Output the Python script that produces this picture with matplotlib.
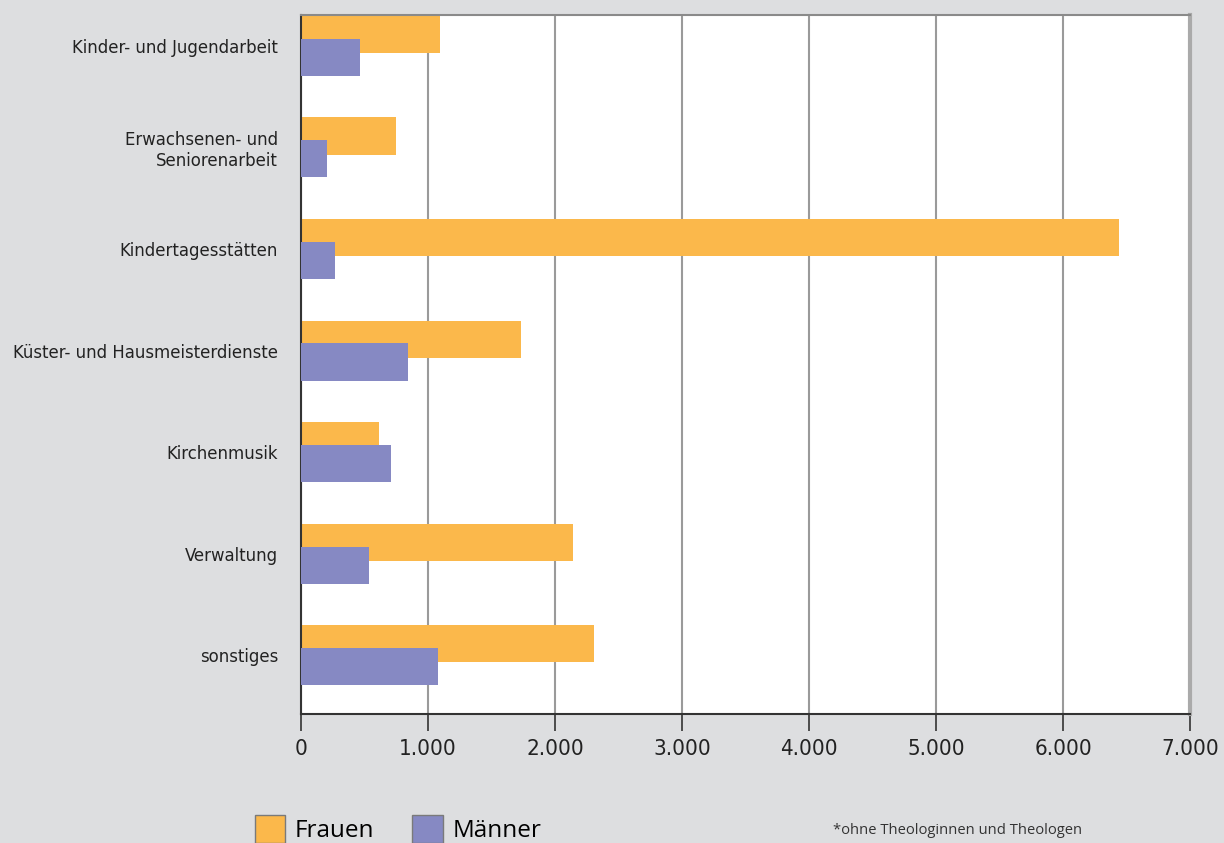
import matplotlib.pyplot as plt
from matplotlib.patches import Patch
from matplotlib.ticker import FuncFormatter

# Beschäftigte nach Arbeitsbereich
bereiche = ['Kinder- und Jugendarbeit', 'Erwachsenen- und\nSeniorenarbeit', 'Kindertagesstätten',
            'Küster- und Hausmeisterdienste', 'Kirchenmusik', 'Verwaltung', 'sonstiges']
frauen = [1095, 750, 6440, 1730, 615, 2140, 2305]
maenner = [465, 205, 265, 845, 710, 535, 1080]
x_ticks = [0, 1000, 2000, 3000, 4000, 5000, 6000, 7000]

ORANGE = '#fbb84b'
LILA = '#8689c3'
HINTERGRUND = '#dddee0'
NARROW = ['Liberation Sans Narrow', 'DejaVu Sans']

fig = plt.figure(figsize=(12.24, 8.43), dpi=100, facecolor=HINTERGRUND)
ax = fig.add_axes([301 / 1224, 1 - 714 / 843, 889 / 1224, 699 / 843])
ax.set_facecolor('white')

pos = list(range(len(bereiche)))
off = 0.113
h = 0.365
ax.barh([p - off for p in pos], frauen, height=h, color=ORANGE, zorder=2)
ax.barh([p + off for p in pos], maenner, height=h, color=LILA, zorder=3)

ax.set_xlim(0, 7000)
ax.set_ylim(6.58, -0.305)
ax.set_xticks(x_ticks)
ax.xaxis.set_major_formatter(FuncFormatter(lambda v, _: f'{int(v):,}'.replace(',', '.')))
ax.grid(axis='x', color='#9a9a9a', linewidth=1.5, zorder=1)
ax.set_axisbelow(True)

ax.set_yticks(pos)
ax.set_yticklabels(bereiche, fontsize=13.2, family=NARROW, fontstretch='condensed',
                   color='#222222', linespacing=1.2, ha='right', multialignment='right')
ax.tick_params(axis='y', length=0, pad=16.5)
ax.tick_params(axis='x', length=12, width=1.2, color='#333333', pad=6,
               labelsize=16, labelcolor='#222222')
for lab in ax.get_xticklabels():
    lab.set_family(NARROW)
    lab.set_fontstretch('condensed')

ax.spines['left'].set_color('#333333')
ax.spines['left'].set_linewidth(1.5)
ax.spines['bottom'].set_color('#333333')
ax.spines['bottom'].set_linewidth(1.5)
ax.spines['top'].set_color('#8a8a8a')
ax.spines['top'].set_linewidth(1.5)
ax.spines['right'].set_color('#aaaaaa')
ax.spines['right'].set_linewidth(3)

handles = [Patch(facecolor=ORANGE, edgecolor='#7a7a7a', label='Frauen'),
           Patch(facecolor=LILA, edgecolor='#7a7a7a', label='Männer')]
fig.legend(handles=handles, loc='lower left', bbox_to_anchor=(233 / 1224, -0.026), ncol=2,
           frameon=False, handlelength=1.25, handleheight=1.4, handletextpad=0.4,
           columnspacing=1.55, prop={'family': 'Open Sans', 'size': 17.5})

fig.text(833 / 1224, 1 - 831 / 843, '*ohne Theologinnen und Theologen', fontsize=10.6,
         family='Open Sans', color='#333333', va='center')

fig.savefig('out.png', dpi=100, facecolor=HINTERGRUND)
